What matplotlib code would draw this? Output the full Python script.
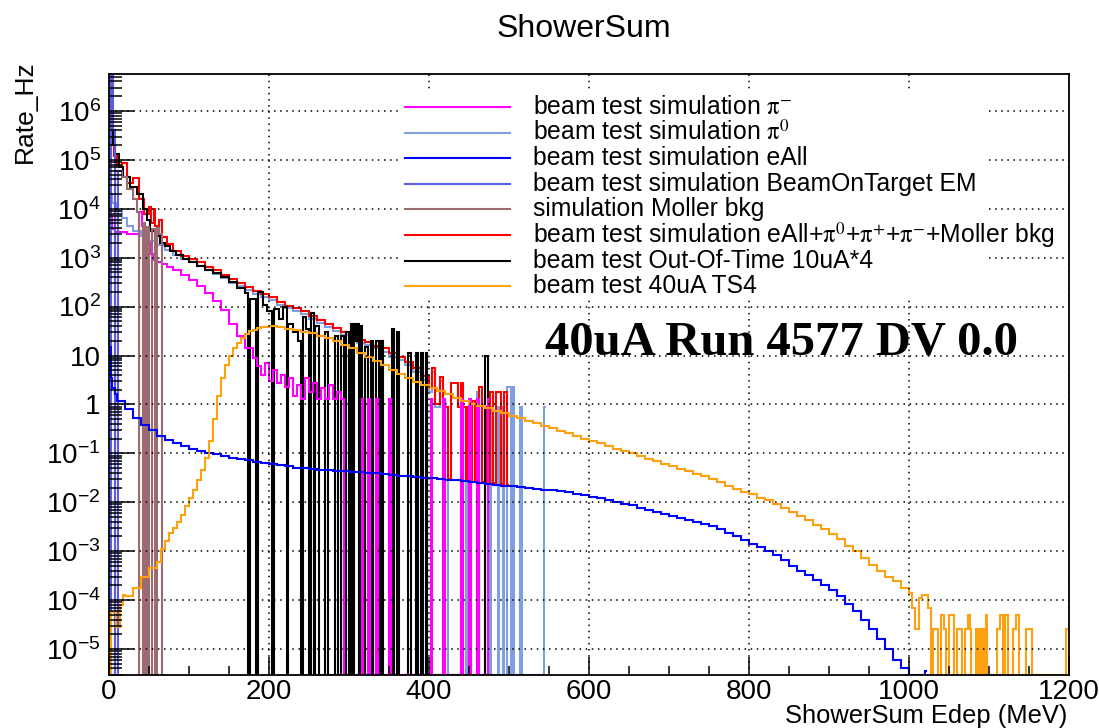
import numpy as np
import matplotlib
matplotlib.use("Agg")
import matplotlib.pyplot as plt
from matplotlib.patches import Rectangle
from matplotlib.ticker import MultipleLocator, LogLocator, NullFormatter, FuncFormatter

plt.rcParams['font.family'] = ['Liberation Sans', 'DejaVu Sans']
plt.rcParams['mathtext.fontset'] = 'stix'

# ---- values: step edges (MeV) and bin contents (Hz) ----

# beam test simulation pi-
pim_edges = ([0, 4, 8, 14, 22, 30, 37, 41, 44, 48, 52, 56, 60, 66, 72, 80]
             + list(range(90, 180, 10)) + list(range(180, 290, 5))
             + [290, 294, 316, 318, 324, 326, 334, 336, 350, 352, 402, 404, 418,
                420, 440, 442, 450, 452, 460, 462, 474, 476])
pim_vals = ([7e3, 3.8e3, 3.3e3, 3.4e3, 3.1e3, 3e3, 8.7e3, 4.5e3, 3e3, 2e3, 1.2e3, 9e2,
             8e2, 7.5e2, 6.5e2, 5.5e2]
            + [4.5e2, 3.5e2, 2.6e2, 1.9e2, 1.3e2, 85, 45, 25, 14]
            + [9, 6, 4, 7, 3, 5, 2.8, 4, 2.3, 3.5, 1.5, 2.5, 1.3, 3.5, 1.8, 2.8, 1.3, 2.2,
               1.3, 2.5, 1.3, 1.8]
            + [1.3, 0, 1.3, 0, 1.3, 0, 1.3, 0, 1.3, 0, 1.3, 0, 1.3, 0, 1.3, 0, 1.3, 0,
               1.3, 0, 1.3])

# beam test simulation pi0
pi0_edges = ([0, 4, 10, 16, 22, 30, 40, 50, 60, 70, 80, 90]
             + list(range(100, 400, 10))
             + [400, 404, 408, 414, 418, 424, 440, 442, 446, 448, 460, 462, 476, 478,
                486, 488, 492, 494, 498, 502, 504, 506, 514, 516, 544, 546])
pi0_vals = ([2e4, 1.3e4, 9e3, 6.5e3, 4.5e3, 3.5e3, 2.8e3, 2.2e3, 1.8e3, 1.45e3, 1.15e3, 9.5e2]
            + [8.2e2, 6.9e2, 5.6e2, 4.7e2, 3.9e2, 3.1e2, 2.6e2, 2.15e2, 1.8e2, 1.6e2,
               1.35e2, 1.08e2, 92, 80, 70, 56, 46, 38, 31, 26,
               22, 18, 16.5, 14, 12, 9.5, 8, 6.5, 4.6, 3.2]
            + [1.8, 4.5, 0.9, 3, 0.9, 0, 0.9, 0, 0.9, 0, 1.8, 0, 0.9, 0, 0.9, 0, 0.9, 0,
               2.3, 0, 2.3, 0, 0.9, 0, 0.9])

# beam test simulation eAll
eall_edges = [0, 2, 4, 8] + list(range(10, 1000, 10)) + [1000, 1020, 1022]
eall_vals = ([15, 3.5, 2.2, 1.6]
             + [1.2, 0.8, 0.52, 0.38, 0.3, 0.23, 0.19, 0.16, 0.14,
                0.125, 0.112, 0.103, 0.095, 0.088, 0.082, 0.077, 0.072, 0.067, 0.063,
                0.06, 0.057, 0.054, 0.051, 0.049, 0.047, 0.046, 0.045, 0.044, 0.043,
                0.042, 0.041, 0.04, 0.039, 0.037, 0.036, 0.035, 0.034, 0.033, 0.032,
                0.031, 0.03, 0.029, 0.028, 0.027, 0.026, 0.025, 0.024, 0.023, 0.022,
                0.021, 0.0205, 0.02, 0.019, 0.018, 0.0175, 0.017, 0.016, 0.015, 0.014,
                0.013, 0.012, 0.011, 0.0102, 0.0094, 0.0086, 0.0078, 0.0071, 0.0064, 0.0058,
                0.0053, 0.0048, 0.0044, 0.004, 0.0036, 0.0032, 0.0028, 0.0024, 0.002, 0.0017,
                0.0014, 0.0012, 0.001, 8.3e-4, 6.5e-4, 5e-4, 4e-4, 3.2e-4, 2.6e-4, 2e-4,
                1.6e-4, 1.2e-4, 8.5e-5, 6e-5, 4e-5, 2.6e-5, 1.6e-5, 1e-5, 6e-6, 4e-6]
             + [0, 3.6e-6])

# beam test simulation BeamOnTarget EM
bot_edges = [0, 2.5, 5, 7.5, 11.5, 17]
bot_vals = [0, 3e7, 4e5, 0, 6e4]

# simulation Moller bkg
moller_edges = [0, 8, 16, 22, 30, 35, 38, 42, 45, 48, 50, 54, 57, 60, 63, 66, 70]
moller_vals = [0, 6e4, 4.5e4, 2.5e4, 1.6e4, 8.7e3, 0, 5.2e3, 0, 4.3e3, 0, 3.8e3, 0,
               4e3, 3e3, 0]

# beam test simulation sum
sum_edges = ([0, 2, 4, 6, 10, 16, 22, 30, 38, 44, 50, 52, 56, 58, 62, 66, 72, 80, 90]
             + list(range(100, 400, 10))
             + [400, 404, 408, 414, 418, 424, 428, 436, 440, 442, 446, 448, 452, 454,
                458, 462, 466, 470, 472, 476, 480, 484, 490, 494, 498, 500])
sum_vals = ([2e7, 1.5e6, 3e5, 1.2e5, 7.5e4, 8.5e4, 3.3e4, 4.2e4, 1.6e4, 8e3, 1.1e4, 5e3,
             1e4, 4.5e3, 6e3, 2.6e3, 1.9e3, 1.4e3, 1.1e3]
            + [9.5e2, 8e2, 6.5e2, 5.5e2, 4.5e2, 3.6e2, 3e2, 2.5e2, 2.1e2, 1.85e2,
               1.55e2, 1.25e2, 1.05e2, 92, 80, 65, 53, 44, 36, 30,
               25, 21, 19, 16, 14, 11, 9.5, 7.5, 5.5, 3.8]
            + [2.2, 5.5, 1.0, 3.7, 0.9, 0.03, 2.8, 0.9, 2.8, 0.9, 0.028, 0.9, 0.028, 1.2,
               0.027, 2.3, 0.026, 0.9, 0.026, 1.8, 0.025, 1.8, 0.024, 1.8, 0.023])

# beam test Out-Of-Time 10uA*4
oot_edges = ([0, 2, 5, 8, 12, 18, 26, 35, 43, 47, 51, 57, 64, 70, 76, 84, 93]
             + list(range(100, 170, 10))
             + [170, 174, 176, 184, 186, 192, 198, 204, 206, 212, 218, 222, 224, 230,
                236, 240, 242, 246, 250, 252, 256, 258, 262, 270, 274, 282, 286, 290,
                294, 296, 300, 302, 304, 306, 308, 310, 312, 314, 316, 320, 324, 328,
                330, 334, 338, 340, 342, 354, 356, 360, 362, 374, 378, 384, 386, 390,
                392, 396, 398, 470, 474, 480])
oot_vals = ([2e5, 5e5, 2e5, 1.3e5, 7e4, 4.5e4, 2.8e4, 2e4, 1e4, 6e3, 3.5e3, 2.8e3, 2e3,
             1.7e3, 1.4e3, 1.15e3, 9.5e2]
            + [8e2, 6.8e2, 5.6e2, 4.8e2, 4e2, 3.2e2, 2.4e2]
            + [1.9e2, 0, 1.4e2, 0, 2e2, 1.1e2, 80, 0, 90, 55, 100, 0, 45, 30, 20, 0, 60,
               35, 0, 75, 0, 40, 0, 30, 0, 25, 0, 25, 0, 30, 0, 45, 0, 45, 20, 45, 0, 40,
               0, 15, 0, 20, 0, 20, 0, 20, 0, 35, 0, 30, 0, 11, 0, 11, 0, 11, 0, 11, 0,
               10, 0])

# beam test 40uA TS4
ts4_edges = ([0, 3, 9, 14, 18] + list(range(20, 60, 10)) + list(range(60, 200, 5))
             + list(range(200, 1000, 10))
             + [1000, 1004, 1008, 1012, 1016, 1024, 1028, 1030, 1036, 1040, 1044, 1046,
                1050, 1056, 1060, 1066, 1070, 1074, 1076, 1078, 1084, 1086, 1088, 1090,
                1092, 1094, 1096, 1098, 1110, 1114, 1118, 1120, 1124, 1130, 1134, 1138,
                1146, 1154, 1196, 1200])
ts4_vals = ([0, 5.7e-5, 2.8e-5, 8e-5, 1.3e-4]
            + [1.2e-4, 1.8e-4, 3e-4, 4.5e-4]
            + [6e-4, 1.1e-3, 1.6e-3, 2.3e-3, 3e-3, 4e-3, 5.5e-3, 8.5e-3, 1.2e-2, 1.8e-2,
               2.8e-2, 4.5e-2, 8e-2, 0.18, 0.5, 1.5, 3.5, 6.5, 10, 14, 18, 23, 27, 31,
               34, 36.5, 38, 39]
            + [39.5, 38, 35.5, 33, 30.5, 28.5, 25.5, 22.5, 19.5, 16.5,
               14, 11.5, 9.5, 7.8, 6.3, 5.1, 4.1, 3.4, 2.9, 2.5,
               2.2, 1.9, 1.6, 1.35, 1.15, 1.02, 0.92, 0.83, 0.75, 0.67,
               0.59, 0.52, 0.46, 0.41, 0.37, 0.33, 0.29, 0.26, 0.23, 0.2,
               0.18, 0.16, 0.14, 0.125, 0.11, 0.1, 0.088, 0.078, 0.069, 0.061,
               0.054, 0.048, 0.043, 0.038, 0.034, 0.03, 0.026, 0.022, 0.019, 0.0165,
               0.0145, 0.0125, 0.011, 0.0093, 0.0078, 0.0064, 0.0053, 0.0043, 0.0035, 0.0028,
               0.0022, 0.0018, 0.0013, 0.001, 7.2e-4, 5.2e-4, 4e-4, 3e-4, 2.4e-4, 1.8e-4]
            + [1.4e-4, 7e-5, 2.6e-5, 1.1e-4, 1.3e-4, 7e-5, 0, 2.6e-5, 0, 5e-5, 2.6e-5, 0,
               5e-5, 0, 2.6e-5, 0, 2.6e-5, 5e-5, 2.6e-5, 0, 2.6e-5, 0, 2.6e-5, 0, 2.6e-5,
               0, 5e-5, 0, 2.6e-5, 5e-5, 0, 5e-5, 0, 2.6e-5, 5e-5, 0, 2.6e-5, 0, 2.6e-5])

labels = [r'beam test simulation $\mathrm{\pi}^{-}$',
          r'beam test simulation $\mathrm{\pi}^{0}$',
          'beam test simulation eAll',
          'beam test simulation BeamOnTarget EM',
          'simulation Moller bkg',
          r'beam test simulation eAll+$\mathrm{\pi}^{0}$+$\mathrm{\pi}^{+}$+$\mathrm{\pi}^{-}$+Moller bkg',
          'beam test Out-Of-Time 10uA*4',
          'beam test 40uA TS4']
colors = ['#ff00ff', '#7f9fdf', '#0000ff', '#5c5ce6', '#9c6b70', '#ff0000', '#000000', '#ffa010']

ymin, ymax = 2.94e-6, 5.7e6

fig = plt.figure(figsize=(10.99, 7.28), dpi=100)
ax = fig.add_axes([0.0992, 0.0728, 0.8735, 0.8256])
ax.set_yscale('log')


def hist(edges, vals, color):
    v = np.maximum(np.asarray(vals, dtype=float), ymin)
    ax.stairs(v, edges, baseline=None, color=color, lw=1.5)


# drawing order
hist(pi0_edges, pi0_vals, colors[1])
hist(sum_edges, sum_vals, colors[5])
hist(oot_edges, oot_vals, colors[6])
hist(pim_edges, pim_vals, colors[0])
hist(moller_edges, moller_vals, colors[4])
hist(bot_edges, bot_vals, colors[3])
hist(eall_edges, eall_vals, colors[2])
hist(ts4_edges, ts4_vals, colors[7])

ax.set_xlim(0, 1200)
ax.set_ylim(ymin, ymax)

ax.xaxis.set_major_locator(MultipleLocator(200))
ax.xaxis.set_minor_locator(MultipleLocator(50))
ax.yaxis.set_major_locator(LogLocator(base=10, numticks=30))
ax.yaxis.set_minor_locator(LogLocator(base=10, subs=np.arange(2, 10), numticks=30))
ax.yaxis.set_minor_formatter(NullFormatter())


def ylab(v, pos):
    e = int(round(np.log10(v)))
    if e == 0:
        return '1'
    if e == 1:
        return '10'
    return r'$\mathregular{10^{%d}}$' % e


ax.yaxis.set_major_formatter(FuncFormatter(ylab))
ax.tick_params(axis='x', which='major', direction='in', length=13, width=1.1, labelsize=20, pad=3)
ax.tick_params(axis='x', which='minor', direction='in', length=6.5, width=1.1)
ax.tick_params(axis='y', which='major', direction='in', length=18, width=1.1, labelsize=20, pad=6)
ax.tick_params(axis='y', which='minor', direction='in', length=9.5, width=1.1)
ax.grid(True, which='major', color='black', linestyle=(0, (1, 3)), lw=1.1)
for s in ax.spines.values():
    s.set_linewidth(1.3)

# legend, ROOT style: white box, no border
ax.add_patch(Rectangle((0.301, 0.624), 0.611, 0.346, transform=ax.transAxes,
                       facecolor='white', edgecolor='none', zorder=2.5))
for i, (lab, c) in enumerate(zip(labels, colors)):
    y = 0.9451 - i * 0.0426
    ax.plot([0.3083, 0.4177], [y, y], transform=ax.transAxes, color=c, lw=1.5, zorder=3)
    ax.text(0.4417, y, lab, transform=ax.transAxes, ha='left', va='center', fontsize=17.8,
            zorder=3)

ax.text(0.454, 0.554, '40uA Run 4577 DV 0.0', transform=ax.transAxes, ha='left', va='center',
        family='Liberation Serif', weight='bold', fontsize=35)

fig.text(0.531, 0.960, 'ShowerSum', ha='center', va='center', fontsize=23)
fig.text(0.0225, 0.917, 'Rate_Hz', rotation=90, ha='center', va='top', fontsize=19)
fig.text(0.971, 0.016, 'ShowerSum Edep (MeV)', ha='right', va='center', fontsize=18.4)

fig.savefig('out.png', dpi=100)
